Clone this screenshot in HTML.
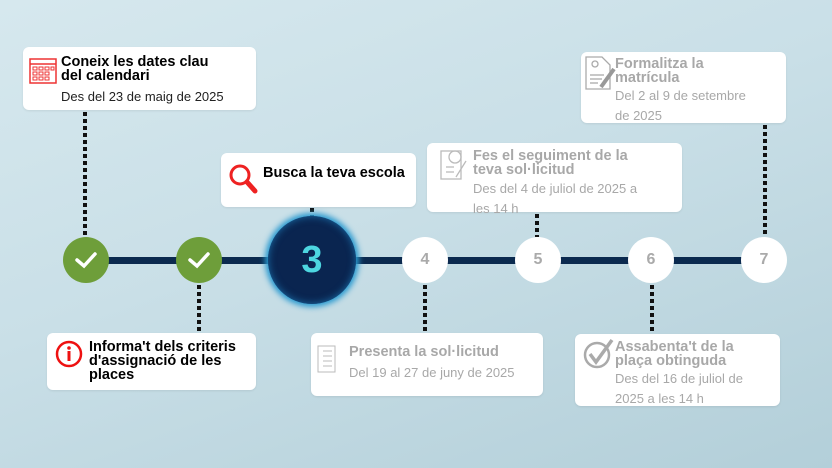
<!DOCTYPE html>
<html><head><meta charset="utf-8"><style>
body{margin:0;width:832px;height:468px;overflow:hidden;font-family:"Liberation Sans",sans-serif;}
#bg{position:absolute;left:0;top:0;width:832px;height:468px;background:linear-gradient(160deg,#d6e8ee 0%,#c9dfe7 45%,#b3cfd9 100%);}
.box{position:absolute;background:#fff;border-radius:6px;box-shadow:0 1px 2px rgba(0,0,0,.08);}
.t{position:absolute;font-weight:bold;font-size:14.5px;line-height:14px;}
.d{position:absolute;font-size:13px;line-height:20px;}
.dot{position:absolute;width:4px;background:repeating-linear-gradient(to bottom,#111 0,#111 4px,transparent 4px,transparent 7px);}
.c{position:absolute;border-radius:50%;display:flex;align-items:center;justify-content:center;font-weight:bold;}
.w{background:#fff;color:#aaa;font-size:16px;width:46px;height:46px;}
.g{background:#6e9e3a;width:46px;height:46px;}
.gray{color:#a8a8a8}
</style></head><body><div id="bg"></div>
<div style="position:absolute;left:85px;top:257px;width:680px;height:7px;background:#0b2a4f"></div>

<div class="dot" style="left:83px;top:112px;height:125px"></div>
<div class="dot" style="left:310px;top:208px;height:9px"></div>
<div class="dot" style="left:197px;top:285px;height:48px"></div>
<div class="dot" style="left:423px;top:285px;height:48px"></div>
<div class="dot" style="left:535px;top:214px;height:23px"></div>
<div class="dot" style="left:763px;top:125px;height:112px"></div>
<div class="dot" style="left:650px;top:285px;height:49px"></div>

<div class="c g" style="left:63px;top:237px"><svg width="24" height="20"><path d="M3 10 L10 16 L21 4" stroke="#fff" stroke-width="3.5" fill="none" stroke-linecap="round"/></svg></div>
<div class="c g" style="left:176px;top:237px"><svg width="24" height="20"><path d="M3 10 L10 16 L21 4" stroke="#fff" stroke-width="3.5" fill="none" stroke-linecap="round"/></svg></div>
<div class="c" style="left:268px;top:216px;width:88px;height:88px;background:#0a2550;box-shadow:0 0 6px 3px #2a9ad0, inset 0 0 8px #1a6ea8;color:#4dd6e0;font-size:38px">3</div>
<div class="c w" style="left:402px;top:237px">4</div>
<div class="c w" style="left:515px;top:237px">5</div>
<div class="c w" style="left:628px;top:237px">6</div>
<div class="c w" style="left:741px;top:237px">7</div>

<div class="box" style="left:23px;top:47px;width:233px;height:63px">
<svg style="position:absolute;left:5px;top:8px" width="30" height="32"><rect x="2" y="4" width="26" height="24" fill="none" stroke="#e33" stroke-width="1.5"/><line x1="2" y1="9" x2="28" y2="9" stroke="#e33" stroke-width="1.5"/><g fill="none" stroke="#e33"><rect x="5" y="12" width="4" height="3"/><rect x="11" y="12" width="4" height="3"/><rect x="17" y="12" width="4" height="3"/><rect x="23" y="12" width="3" height="3"/><rect x="5" y="17" width="4" height="3"/><rect x="11" y="17" width="4" height="3"/><rect x="17" y="17" width="4" height="3"/><rect x="5" y="22" width="4" height="3"/><rect x="11" y="22" width="4" height="3"/><rect x="17" y="22" width="4" height="3"/></g></svg>
<div class="t" style="left:38px;top:8px">Coneix les dates clau<br>del calendari</div>
<div class="d" style="left:38px;top:40px;color:#222">Des del 23 de maig de 2025</div></div>

<div class="box" style="left:221px;top:153px;width:195px;height:54px">
<svg style="position:absolute;left:7px;top:10px" width="30" height="32"><circle cx="12" cy="12" r="9" stroke="#e22" stroke-width="3" fill="none"/><line x1="19" y1="19" x2="27" y2="28" stroke="#e22" stroke-width="5" stroke-linecap="round"/></svg>
<div class="t" style="left:42px;top:13px">Busca la teva escola</div></div>

<div class="box" style="left:47px;top:333px;width:209px;height:57px">
<svg style="position:absolute;left:8px;top:7px" width="30" height="30"><circle cx="14" cy="14" r="12" stroke="#e11" stroke-width="2.5" fill="none"/><circle cx="14" cy="8" r="1.8" fill="#e11"/><rect x="12.5" y="11" width="3" height="10" fill="#e11"/></svg>
<div class="t" style="left:42px;top:7px">Informa't dels criteris<br>d'assignació de les<br>places</div></div>

<div class="box" style="left:311px;top:333px;width:232px;height:63px">
<svg style="position:absolute;left:5px;top:12px" width="26" height="30"><g stroke="#bbb" fill="none"><rect x="2" y="1" width="17" height="26"/><line x1="7" y1="6" x2="16" y2="6"/><line x1="7" y1="11" x2="16" y2="11"/><line x1="7" y1="16" x2="16" y2="16"/><line x1="7" y1="21" x2="16" y2="21"/></g></svg>
<div class="t gray" style="left:38px;top:12px">Presenta la sol·licitud</div>
<div class="d gray" style="left:38px;top:30px">Del 19 al 27 de juny de 2025</div></div>

<div class="box" style="left:427px;top:143px;width:255px;height:69px">
<svg style="position:absolute;left:12px;top:4px" width="30" height="34"><g stroke="#bbb" fill="none" stroke-width="1.3"><rect x="2" y="4" width="20" height="28"/><circle cx="16" cy="10" r="6"/><line x1="7" y1="20" x2="15" y2="20"/><line x1="7" y1="25" x2="15" y2="25"/><line x1="27" y1="14" x2="17" y2="30"/></g></svg>
<div class="t gray" style="left:46px;top:6px">Fes el seguiment de la<br>teva sol·licitud</div>
<div class="d gray" style="left:46px;top:36px">Des del 4 de juliol de 2025 a<br>les 14 h</div></div>

<div class="box" style="left:581px;top:52px;width:205px;height:71px">
<svg style="position:absolute;left:3px;top:3px" width="32" height="38"><g stroke="#aaa" fill="none" stroke-width="1.3"><path d="M2 2 H18 L26 10 V34 H2 Z"/><circle cx="11" cy="9" r="3"/><line x1="6" y1="20" x2="20" y2="20"/><line x1="6" y1="24" x2="18" y2="24"/><line x1="6" y1="28" x2="14" y2="28"/></g><line x1="30" y1="14" x2="17" y2="32" stroke="#999" stroke-width="4"/></svg>
<div class="t gray" style="left:34px;top:5px">Formalitza la<br>matrícula</div>
<div class="d gray" style="left:34px;top:34px">Del 2 al 9 de setembre<br>de 2025</div></div>

<div class="box" style="left:575px;top:334px;width:205px;height:72px">
<svg style="position:absolute;left:7px;top:4px" width="34" height="32"><circle cx="15" cy="17" r="12" stroke="#aaa" stroke-width="2.5" fill="none"/><path d="M8 16 L14 24 L30 2" stroke="#aaa" stroke-width="3.5" fill="none"/></svg>
<div class="t gray" style="left:40px;top:6px">Assabenta't de la<br>plaça obtinguda</div>
<div class="d gray" style="left:40px;top:35px">Des del 16 de juliol de<br>2025 a les 14 h</div></div>
</body></html>
